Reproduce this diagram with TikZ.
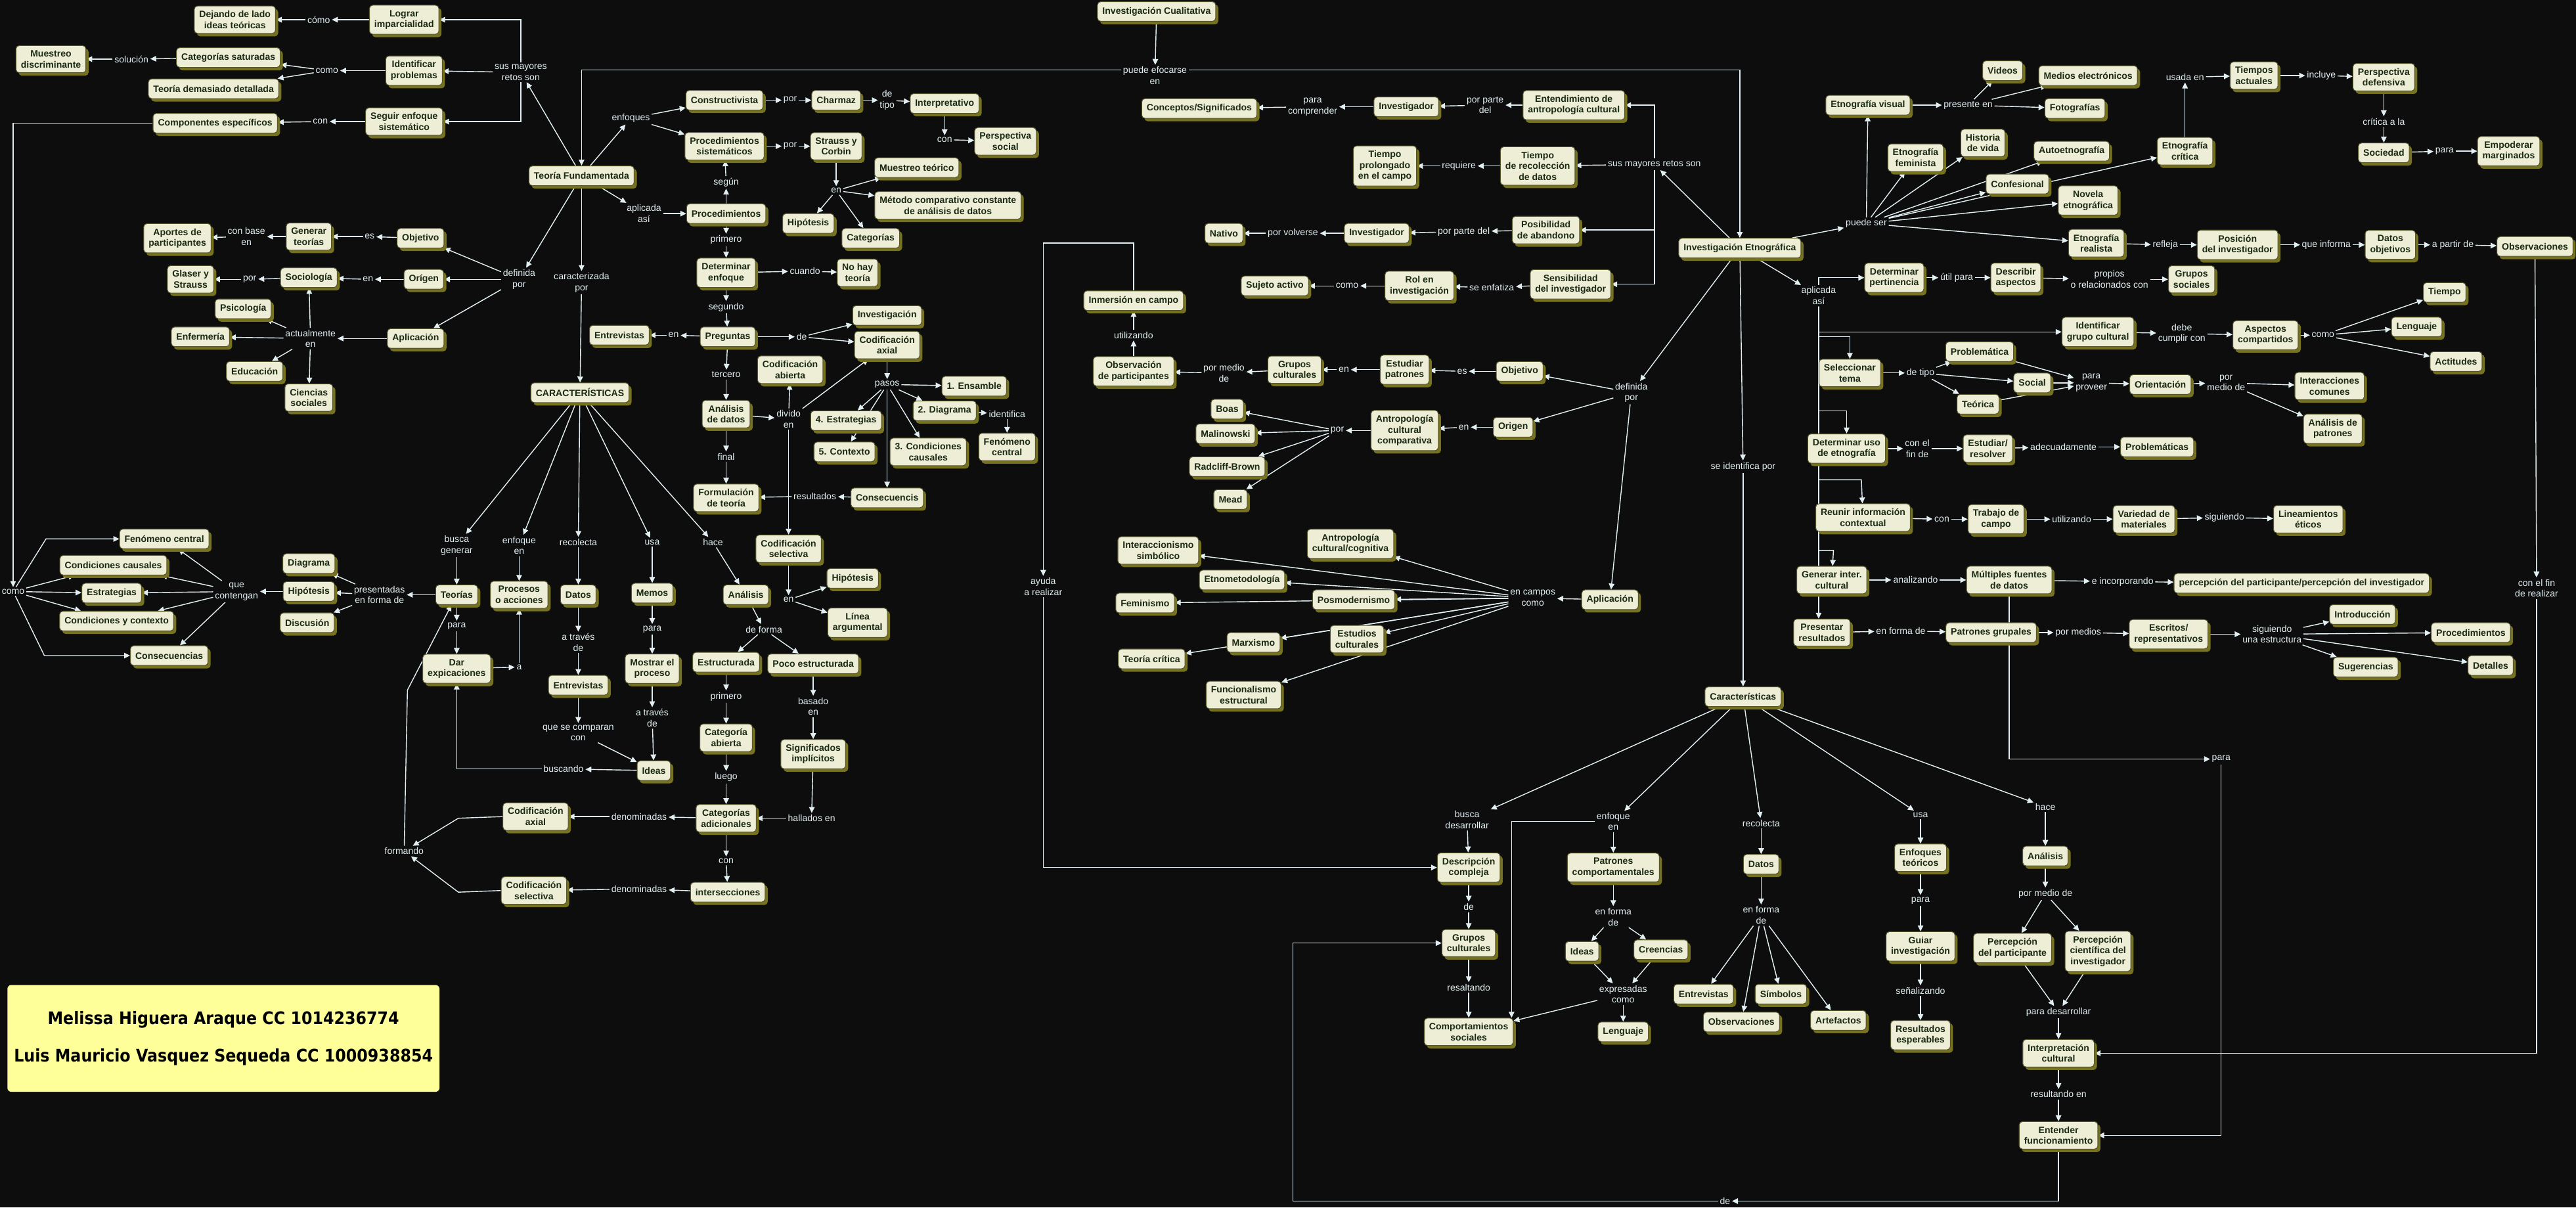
\documentclass[tikz,border=0pt]{standalone}
\usepackage{fontspec}
\setmainfont{Liberation Sans}
\newfontfamily\authorfont{DejaVu Sans}[FakeStretch=0.9]
\usepackage{tikz}
\usetikzlibrary{arrows.meta,positioning,shadows}
\pgfdeclarelayer{pagebase}
\pgfdeclarelayer{edges}
\pgfsetlayers{pagebase,edges,main}
\definecolor{pagebg}{HTML}{0D0D0D}
\definecolor{conceptfill}{HTML}{EEEDD6}
\definecolor{conceptline}{HTML}{55552A}
\definecolor{conceptshade}{HTML}{777220}
\definecolor{concepttext}{HTML}{1A2A14}
\definecolor{linkcol}{HTML}{E2EFF2}
\definecolor{authorfill}{HTML}{FFFF99}
\tikzset{
    concept/.style={draw=conceptline,fill=conceptfill,rounded corners=1mm,line width=0.6pt,align=center,
        text=concepttext,font=\bfseries\fontsize{8}{9.4}\selectfont,inner xsep=1.5mm,inner ysep=1.5mm,
        minimum height=6mm,general shadow={fill=conceptshade,shadow xshift=0.8mm,shadow yshift=-0.9mm}},
    phrase/.style={text=linkcol,font=\fontsize{8}{9.4}\selectfont,align=center,inner sep=0.5mm},
    authorbox/.style={fill=authorfill,rounded corners=1.2mm,align=center,minimum width=131.5mm,minimum height=32.5mm,
        font=\authorfont\bfseries\fontsize{15}{32.7}\selectfont},
    link/.style={draw=linkcol,line width=0.8pt},
    arrow/.style={link,-{Triangle[length=1.8mm,width=1.7mm]}}
}

\begin{document}
\begin{tikzpicture}[x=0.5mm,y=-0.5mm]
    \useasboundingbox (0,0) rectangle (1568,735);
    \begin{pgfonlayer}{pagebase}
        \fill[pagebg] (0,0) rectangle (1568,735);
    \end{pgfonlayer}

    \node[concept] (tf) at (354,107) {Teoría Fundamentada};
    \node[phrase] (retos1) at (317,44) {sus mayores\\retos son};
    \node[concept] (imparc) at (246,12) {Lograr\\imparcialidad};
    \node[phrase] (como1) at (194,12) {cómo};
    \node[concept] (dejando) at (143,12) {Dejando de lado\\ideas teóricas};
    \node[concept] (identprob) at (252,43) {Identificar\\problemas};
    \node[phrase] (como2) at (199,43) {como};
    \node[concept] (catsat) at (139,35) {Categorías saturadas};
    \node[concept] (teodet) at (130,54) {Teoría demasiado detallada};
    \node[phrase] (solucion) at (80,36) {solución};
    \node[concept] (muestdisc) at (31,36) {Muestreo\\discriminante};
    \node[concept] (seguir) at (246,74) {Seguir enfoque\\sistemático};
    \node[phrase] (con1) at (195,74) {con};
    \node[concept] (componentes) at (131,75) {Componentes específicos};

    \node[phrase] (como3) at (8,360) {como};
    \node[concept] (fencen1) at (100,328) {Fenómeno central};
    \node[concept] (condcaus) at (69,344) {Condiciones causales};
    \node[concept] (estrat1) at (68,361) {Estrategias};
    \node[concept] (condcont) at (71,378) {Condiciones y contexto};
    \node[concept] (consec1) at (103,399) {Consecuencias};
    \node[phrase] (contengan) at (144,360) {que\\contengan};
    \node[concept] (diagrama) at (188,343) {Diagrama};
    \node[concept] (hipot1) at (188,360) {Hipótesis};
    \node[concept] (discusion) at (187,379) {Discusión};
    \node[phrase] (presentadas) at (231,362) {presentadas\\en forma de};
    \node[concept] (teorias) at (278,362) {Teorías};

    \node[phrase] (definida1) at (316,170) {definida\\por};
    \node[concept] (objetivo1) at (256,145) {Objetivo};
    \node[phrase] (es1) at (225,144) {es};
    \node[concept] (generar1) at (188,144) {Generar\\teorías};
    \node[phrase] (conbase) at (150,144) {con base\\en};
    \node[concept] (aportes) at (108,145) {Aportes de\\participantes};
    \node[concept] (origen1) at (258,170) {Orígen};
    \node[phrase] (en6) at (224,170) {en};
    \node[concept] (sociologia) at (188,169) {Sociología};
    \node[phrase] (por4) at (152,170) {por};
    \node[concept] (glaser) at (116,170) {Glaser y\\Strauss};
    \node[concept] (aplicacion1) at (253,206) {Aplicación};
    \node[phrase] (actualmente) at (189,206) {actualmente\\en};
    \node[concept] (psicologia) at (148,188) {Psicología};
    \node[concept] (enfermeria) at (122,205) {Enfermería};
    \node[concept] (educacion) at (155,226) {Educación};
    \node[concept] (ciencias) at (188,242) {Ciencias\\sociales};

    \node[phrase] (caracpor) at (354,172) {caracterizada\\por};
    \node[concept] (caract1) at (353,239) {CARACTERÍSTICAS};
    \node[phrase] (buscagen) at (278,332) {busca\\generar};
    \node[phrase] (enfoqen1) at (316,332) {enfoque\\en};
    \node[phrase] (recolecta1) at (352,330) {recolecta};
    \node[phrase] (usa1) at (397,330) {usa};
    \node[phrase] (hace1) at (434,330) {hace};
    \node[concept] (procesos) at (316,362) {Procesos\\o acciones};
    \node[concept] (datos1) at (352,362) {Datos};
    \node[concept] (memos) at (397,361) {Memos};
    \node[phrase] (para1) at (278,381) {para};
    \node[concept] (darexp) at (278,407) {Dar\\expicaciones};
    \node[phrase] (a1) at (316,406) {a};
    \node[phrase] (atraves1) at (352,391) {a través\\de};
    \node[concept] (entrev1) at (352,417) {Entrevistas};
    \node[phrase] (comparan) at (352,446) {que se comparan\\con};
    \node[phrase] (para2) at (397,383) {para};
    \node[concept] (mostrar) at (397,407) {Mostrar el\\proceso};
    \node[phrase] (atraves2) at (397,437) {a través\\de};
    \node[concept] (ideas1) at (398,469) {Ideas};
    \node[phrase] (buscando) at (343,468) {buscando};
    \node[phrase] (formando) at (246,518) {formando};

    \node[phrase] (enfoques) at (384,72) {enfoques};
    \node[concept] (construct) at (441,61) {Constructivista};
    \node[phrase] (por1) at (481,61) {por};
    \node[concept] (charmaz) at (509,61) {Charmaz};
    \node[phrase] (detipo1) at (540,61) {de\\tipo};
    \node[concept] (interp) at (575,63) {Interpretativo};
    \node[phrase] (con2) at (575,85) {con};
    \node[concept] (perssoc) at (612,86) {Perspectiva\\social};
    \node[concept] (procsist) at (441,89) {Procedimientos\\sistemáticos};
    \node[phrase] (por2) at (481,89) {por};
    \node[concept] (strauss) at (509,89) {Strauss y\\Corbin};
    \node[phrase] (en1) at (509,116) {en};
    \node[concept] (muestteo) at (558,102) {Muestreo teórico};
    \node[concept] (metodo) at (577,125) {Método comparativo constante\\de análisis de datos};
    \node[concept] (hipot2) at (492,136) {Hipótesis};
    \node[concept] (categorias1) at (530,145) {Categorías};
    \node[phrase] (aplicada1) at (392,130) {aplicada\\así};
    \node[concept] (proced) at (442,130) {Procedimientos};
    \node[phrase] (segun) at (442,111) {según};
    \node[phrase] (primero1) at (442,146) {primero};
    \node[concept] (detenf) at (442,166) {Determinar\\enfoque};
    \node[phrase] (cuando) at (490,165) {cuando};
    \node[concept] (nohay) at (522,166) {No hay\\teoría};
    \node[phrase] (segundo) at (442,187) {segundo};
    \node[concept] (preguntas) at (443,205) {Preguntas};
    \node[phrase] (en2) at (410,204) {en};
    \node[concept] (entrev2) at (377,204) {Entrevistas};
    \node[phrase] (de1) at (488,205) {de};
    \node[concept] (investig) at (540,192) {Investigación};
    \node[concept] (codaxial1) at (540,210) {Codificación\\axial};
    \node[phrase] (tercero) at (442,228) {tercero};
    \node[concept] (codabierta) at (481,225) {Codificación\\abierta};
    \node[phrase] (pasos) at (540,234) {pasos};
    \node[concept] (ensamble) at (593,235) {1. Ensamble};
    \node[concept] (analdatos) at (442,252) {Análisis\\de datos};
    \node[phrase] (divido) at (480,255) {divido\\en};
    \node[concept] (estrat2) at (515,256) {4. Estrategias};
    \node[concept] (contexto) at (514,275) {5. Contexto};
    \node[concept] (diag2) at (575,250) {2. Diagrama};
    \node[phrase] (identifica) at (613,252) {identifica};
    \node[concept] (fencen2) at (613,272) {Fenómeno\\central};
    \node[concept] (condcaus2) at (565,275) {3. Condiciones\\causales};
    \node[phrase] (final) at (442,278) {final};
    \node[concept] (formteo) at (442,303) {Formulación\\de teoría};
    \node[phrase] (resultados) at (496,302) {resultados};
    \node[concept] (consec2) at (540,303) {Consecuencis};
    \node[concept] (codsel1) at (480,334) {Codificación\\selectiva};
    \node[phrase] (en3) at (480,365) {en};
    \node[concept] (hipot3) at (519,352) {Hipótesis};
    \node[concept] (lineaarg) at (522,379) {Línea\\argumental};
    \node[concept] (analisis1) at (454,362) {Análisis};
    \node[phrase] (deforma) at (465,383) {de forma};
    \node[concept] (estructurada) at (442,403) {Estructurada};
    \node[concept] (pocoestr) at (495,404) {Poco estructurada};
    \node[phrase] (primero2) at (442,424) {primero};
    \node[phrase] (basado) at (495,430) {basado\\en};
    \node[concept] (catabierta) at (442,449) {Categoría\\abierta};
    \node[concept] (signif) at (495,459) {Significados\\implícitos};
    \node[phrase] (luego) at (442,473) {luego};
    \node[concept] (catadic) at (442,498) {Categorías\\adicionales};
    \node[phrase] (hallados) at (494,498) {hallados en};
    \node[phrase] (con3) at (442,524) {con};
    \node[concept] (intersec) at (443,543) {intersecciones};
    \node[phrase] (denom1) at (389,497) {denominadas};
    \node[phrase] (denom2) at (389,541) {denominadas};
    \node[concept] (codaxial2) at (326,497) {Codificación\\axial};
    \node[concept] (codsel2) at (325,542) {Codificación\\selectiva};

    \node[concept] (ic) at (704,7) {Investigación Cualitativa};
    \node[phrase] (efocarse) at (703,46) {puede efocarse\\en};
    \node[concept] (ie) at (1059,151) {Investigación Etnográfica};
    \node[phrase] (retos2) at (1007,100) {sus mayores retos son};
    \node[concept] (entend) at (958,64) {Entendimiento de\\antropología cultural};
    \node[phrase] (porparte1) at (904,64) {por parte\\del};
    \node[concept] (investigador1) at (856,65) {Investigador};
    \node[phrase] (comprender) at (799,65) {para\\comprender};
    \node[concept] (conceptos) at (730,66) {Conceptos/Significados};
    \node[concept] (tiemrec) at (936,101) {Tiempo\\de recolección\\de datos};
    \node[phrase] (requiere) at (888,101) {requiere};
    \node[concept] (tiemprol) at (843,101) {Tiempo\\prolongado\\en el campo};
    \node[concept] (posib) at (941,140) {Posibilidad\\de abandono};
    \node[phrase] (porparte2) at (891,141) {por parte del};
    \node[concept] (investigador2) at (838,142) {Investigador};
    \node[phrase] (volverse) at (787,142) {por volverse};
    \node[concept] (nativo) at (745,142) {Nativo};
    \node[concept] (sensib) at (956,173) {Sensibilidad\\del investigador};
    \node[phrase] (enfatiza) at (908,175) {se enfatiza};
    \node[concept] (rol) at (864,174) {Rol en\\investigación};
    \node[phrase] (como4) at (820,174) {como};
    \node[concept] (sujeto) at (776,174) {Sujeto activo};

    \node[phrase] (definida2) at (993,239) {definida\\por};
    \node[concept] (objetivo2) at (925,226) {Objetivo};
    \node[phrase] (es2) at (890,226) {es};
    \node[concept] (estpat) at (855,225) {Estudiar\\patrones};
    \node[phrase] (en4) at (818,225) {en};
    \node[concept] (grupcult1) at (788,225) {Grupos\\culturales};
    \node[phrase] (pormedio1) at (745,227) {por medio\\de};
    \node[concept] (observpart) at (690,226) {Observación\\de participantes};
    \node[phrase] (utilizando1) at (690,204) {utilizando};
    \node[concept] (inmersion) at (690,183) {Inmersión en campo};
    \node[phrase] (ayuda) at (635,357) {ayuda\\a realizar};
    \node[concept] (origen2) at (921,260) {Origen};
    \node[phrase] (en5) at (891,260) {en};
    \node[concept] (antcomp) at (855,262) {Antropología\\cultural\\comparativa};
    \node[phrase] (por3) at (814,262) {por};
    \node[concept] (boas) at (747,249) {Boas};
    \node[concept] (malinowski) at (746,264) {Malinowski};
    \node[concept] (radcliff) at (747,284) {Radcliff-Brown};
    \node[concept] (mead) at (749,304) {Mead};
    \node[concept] (aplicacion2) at (980,365) {Aplicación};
    \node[phrase] (campos) at (933,364) {en campos\\como};
    \node[concept] (antcog) at (822,331) {Antropología\\cultural/cognitiva};
    \node[concept] (interacc) at (705,335) {Interaccionismo\\simbólico};
    \node[concept] (etnomet) at (756,353) {Etnometodología};
    \node[concept] (feminismo) at (697,367) {Feminismo};
    \node[concept] (posmod) at (824,365) {Posmodernismo};
    \node[concept] (estcult) at (826,389) {Estudios\\culturales};
    \node[concept] (marxismo) at (763,391) {Marxismo};
    \node[concept] (teocrit) at (701,401) {Teoría crítica};
    \node[concept] (funcional) at (757,423) {Funcionalismo\\estructural};

    \node[phrase] (puedeser) at (1136,136) {puede ser};
    \node[concept] (visual) at (1137,64) {Etnografía visual};
    \node[phrase] (presente) at (1198,64) {presente en};
    \node[concept] (videos) at (1219,43) {Videos};
    \node[concept] (medios) at (1271,46) {Medios electrónicos};
    \node[concept] (fotos) at (1263,66) {Fotografías};
    \node[concept] (feminista) at (1166,96) {Etnografía\\feminista};
    \node[concept] (historia) at (1207,87) {Historia\\de vida};
    \node[concept] (autoetno) at (1261,92) {Autoetnografía};
    \node[concept] (confes) at (1228,112) {Confesional};
    \node[concept] (novela) at (1271,122) {Novela\\etnográfica};
    \node[concept] (critica) at (1330,92) {Etnografía\\crítica};
    \node[concept] (realista) at (1276,148) {Etnografía\\realista};
    \node[phrase] (usada) at (1330,47) {usada en};
    \node[concept] (tiempos) at (1372,46) {Tiempos\\actuales};
    \node[phrase] (incluye) at (1413,46) {incluye};
    \node[concept] (persdef) at (1451,47) {Perspectiva\\defensiva};
    \node[phrase] (criticaala) at (1451,74) {crítica a la};
    \node[concept] (sociedad) at (1451,93) {Sociedad};
    \node[phrase] (para3) at (1488,92) {para};
    \node[concept] (empoderar) at (1527,92) {Empoderar\\marginados};
    \node[phrase] (refleja) at (1318,149) {refleja};
    \node[concept] (posicion) at (1362,149) {Posición\\del investigador};
    \node[phrase] (informa) at (1416,149) {que informa};
    \node[concept] (datosobj) at (1455,149) {Datos\\objetivos};
    \node[phrase] (apartir) at (1493,149) {a partir de};
    \node[concept] (observ1) at (1543,150) {Observaciones};
    \node[phrase] (finrealizar) at (1544,358) {con el fin\\de realizar};

    \node[phrase] (apl2) at (1107,180) {aplicada\\así};
    \node[concept] (detpert) at (1153,169) {Determinar\\pertinencia};
    \node[phrase] (util) at (1191,169) {útil para};
    \node[concept] (describir) at (1227,169) {Describir\\aspectos};
    \node[phrase] (propios) at (1284,170) {propios\\o relacionados con};
    \node[concept] (grupsoc) at (1334,170) {Grupos\\sociales};
    \node[concept] (identgrupo) at (1277,202) {Identificar\\grupo cultural};
    \node[phrase] (debe) at (1328,203) {debe\\cumplir con};
    \node[concept] (aspcomp) at (1379,204) {Aspectos\\compartidos};
    \node[phrase] (como5) at (1414,204) {como};
    \node[concept] (tiempo) at (1488,178) {Tiempo};
    \node[concept] (lenguaje1) at (1471,199) {Lenguaje};
    \node[concept] (actitudes) at (1495,220) {Actitudes};
    \node[concept] (seltema) at (1126,227) {Seleccionar\\tema};
    \node[phrase] (detipo2) at (1169,227) {de tipo};
    \node[concept] (problematica) at (1205,214) {Problemática};
    \node[concept] (social) at (1237,233) {Social};
    \node[concept] (teorica) at (1204,246) {Teórica};
    \node[phrase] (proveer) at (1273,233) {para\\proveer};
    \node[concept] (orientacion) at (1315,234) {Orientación};
    \node[phrase] (pormedio2) at (1355,233) {por\\medio de};
    \node[concept] (interacciones) at (1418,235) {Interacciones\\comunes};
    \node[concept] (analpat) at (1420,261) {Análisis de\\patrones};
    \node[concept] (detuso) at (1124,273) {Determinar uso\\de etnografía};
    \node[phrase] (confin) at (1167,273) {con el\\fin de};
    \node[concept] (estudiar) at (1210,273) {Estudiar/\\resolver};
    \node[phrase] (adecuad) at (1256,272) {adecuadamente};
    \node[concept] (problematicas) at (1313,272) {Problemáticas};
    \node[concept] (reunir) at (1134,315) {Reunir información\\contextual};
    \node[phrase] (con4) at (1182,316) {con};
    \node[concept] (trabajo) at (1215,316) {Trabajo de\\campo};
    \node[phrase] (utilizando2) at (1261,316) {utilizando};
    \node[concept] (variedad) at (1305,316) {Variedad de\\materiales};
    \node[phrase] (siguiendo1) at (1354,315) {siguiendo};
    \node[concept] (lineam) at (1405,316) {Lineamientos\\éticos};
    \node[concept] (generar2) at (1115,353) {Generar inter.\\cultural};
    \node[phrase] (analizando) at (1166,353) {analizando};
    \node[concept] (multiples) at (1223,353) {Múltiples fuentes\\de datos};
    \node[phrase] (incorporando) at (1292,354) {e incorporando};
    \node[concept] (percepcion) at (1401,355) {percepción del participante/percepción del investigador};
    \node[concept] (presentar) at (1109,385) {Presentar\\resultados};
    \node[phrase] (enforma1) at (1157,384) {en forma de};
    \node[concept] (patgrup) at (1212,385) {Patrones grupales};
    \node[phrase] (pormedios) at (1265,385) {por medios};
    \node[concept] (escritos) at (1320,386) {Escritos/\\representativos};
    \node[phrase] (estructura) at (1383,386) {siguiendo\\una estructura};
    \node[concept] (intro) at (1438,374) {Introducción};
    \node[concept] (proced2) at (1504,385) {Procedimientos};
    \node[concept] (sugerencias) at (1440,406) {Sugerencias};
    \node[concept] (detalles) at (1516,405) {Detalles};
    \node[phrase] (para4) at (1352,462) {para};

    \node[phrase] (identifica2) at (1061,284) {se identifica por};
    \node[concept] (caract2) at (1061,424) {Características};
    \node[phrase] (buscades) at (893,499) {busca\\desarrollar};
    \node[phrase] (enfoqen2) at (982,500) {enfoque\\en};
    \node[phrase] (recolecta2) at (1072,501) {recolecta};
    \node[phrase] (usa2) at (1169,496) {usa};
    \node[phrase] (hace2) at (1245,491) {hace};
    \node[concept] (descomp) at (894,528) {Descripción\\compleja};
    \node[phrase] (de2) at (894,552) {de};
    \node[concept] (grupcult2) at (894,574) {Grupos\\culturales};
    \node[phrase] (resaltando) at (894,601) {resaltando};
    \node[concept] (compsoc) at (894,628) {Comportamientos\\sociales};
    \node[concept] (patcomp) at (982,528) {Patrones\\comportamentales};
    \node[phrase] (enforma2) at (982,558) {en forma\\de};
    \node[concept] (ideas2) at (963,579) {Ideas};
    \node[concept] (creencias) at (1011,578) {Creencias};
    \node[phrase] (expresadas) at (988,605) {expresadas\\como};
    \node[concept] (lenguaje2) at (988,628) {Lenguaje};
    \node[concept] (datos2) at (1072,526) {Datos};
    \node[phrase] (enforma3) at (1072,557) {en forma\\de};
    \node[concept] (entrev3) at (1037,605) {Entrevistas};
    \node[concept] (observ2) at (1060,622) {Observaciones};
    \node[concept] (simbolos) at (1084,605) {Símbolos};
    \node[concept] (artefactos) at (1119,621) {Artefactos};
    \node[concept] (enfteo) at (1169,522) {Enfoques\\teóricos};
    \node[phrase] (para5) at (1169,548) {para};
    \node[concept] (guiar) at (1169,576) {Guiar\\investigación};
    \node[phrase] (senal) at (1169,603) {señalizando};
    \node[concept] (resesp) at (1169,630) {Resultados\\esperables};
    \node[concept] (analisis2) at (1245,521) {Análisis};
    \node[phrase] (pormedio3) at (1245,544) {por medio de};
    \node[concept] (percpart) at (1225,577) {Percepción\\del participante};
    \node[concept] (perccien) at (1277,579) {Percepción\\científica del\\investigador};
    \node[phrase] (desarrollar) at (1253,616) {para desarrollar};
    \node[concept] (interpcult) at (1253,641) {Interpretación\\cultural};
    \node[phrase] (resultando) at (1253,666) {resultando en};
    \node[concept] (entender) at (1253,691) {Entender\\funcionamiento};
    \node[phrase] (de3) at (1050,731) {de};

    \node[authorbox] (autores) at (136,632) {Melissa Higuera Araque CC 1014236774\\Luis Mauricio Vasquez Sequeda CC 1000938854};

    \begin{pgfonlayer}{edges}
    \draw[arrow] (tf) -- (retos1);
    \draw[arrow] (retos1.north) |- (imparc);
    \draw[arrow] (retos1) -- (identprob);
    \draw[arrow] (retos1.south) |- (seguir);
    \draw[arrow] (imparc) -- (como1);
    \draw[arrow] (como1) -- (dejando);
    \draw[arrow] (identprob) -- (como2);
    \draw[arrow] (como2) -- (catsat);
    \draw[arrow] (como2) -- (teodet);
    \draw[arrow] (catsat) -- (solucion);
    \draw[arrow] (solucion) -- (muestdisc);
    \draw[arrow] (seguir) -- (con1);
    \draw[arrow] (con1) -- (componentes);
    \draw[arrow] (componentes.west) -| (como3.north);
    \draw[arrow] (como3) -- (28,328) -- (fencen1);
    \draw[arrow] (como3) -- (condcaus);
    \draw[arrow] (como3) -- (estrat1);
    \draw[arrow] (como3) -- (condcont);
    \draw[arrow] (como3) -- (27,399) -- (consec1);
    \draw[arrow] (contengan) -- (fencen1);
    \draw[arrow] (contengan) -- (condcaus);
    \draw[arrow] (contengan) -- (estrat1);
    \draw[arrow] (contengan) -- (condcont);
    \draw[arrow] (contengan) -- (consec1);
    \draw[arrow] (hipot1) -- (contengan);
    \draw[arrow] (presentadas) -- (diagrama);
    \draw[arrow] (presentadas) -- (hipot1);
    \draw[arrow] (presentadas) -- (discusion);
    \draw[arrow] (teorias) -- (presentadas);

    \draw[arrow] (tf) -- (definida1);
    \draw[arrow] (definida1) -- (objetivo1);
    \draw[arrow] (definida1) -- (origen1);
    \draw[arrow] (definida1) -- (aplicacion1);
    \draw[arrow] (objetivo1) -- (es1);
    \draw[arrow] (es1) -- (generar1);
    \draw[arrow] (generar1) -- (conbase);
    \draw[arrow] (conbase) -- (aportes);
    \draw[arrow] (origen1) -- (en6);
    \draw[arrow] (en6) -- (sociologia);
    \draw[arrow] (sociologia) -- (por4);
    \draw[arrow] (por4) -- (glaser);
    \draw[arrow] (aplicacion1) -- (actualmente);
    \draw[arrow] (actualmente) -- (sociologia);
    \draw[arrow] (actualmente) -- (psicologia);
    \draw[arrow] (actualmente) -- (enfermeria);
    \draw[arrow] (actualmente) -- (educacion);
    \draw[arrow] (actualmente) -- (ciencias);

    \draw[arrow] (tf) -- (caracpor);
    \draw[arrow] (caracpor) -- (caract1);
    \draw[arrow] (caract1) -- (buscagen);
    \draw[arrow] (caract1) -- (enfoqen1);
    \draw[arrow] (caract1) -- (recolecta1);
    \draw[arrow] (caract1) -- (usa1);
    \draw[arrow] (caract1) -- (hace1);
    \draw[arrow] (buscagen) -- (teorias);
    \draw[arrow] (enfoqen1) -- (procesos);
    \draw[arrow] (recolecta1) -- (datos1);
    \draw[arrow] (usa1) -- (memos);
    \draw[arrow] (hace1) -- (analisis1);
    \draw[arrow] (teorias) -- (para1);
    \draw[arrow] (para1) -- (darexp);
    \draw[arrow] (darexp) -- (a1);
    \draw[arrow] (a1) -- (procesos);
    \draw[arrow] (datos1) -- (atraves1);
    \draw[arrow] (atraves1) -- (entrev1);
    \draw[arrow] (entrev1) -- (comparan);
    \draw[arrow] (comparan) -- (ideas1);
    \draw[arrow] (memos) -- (para2);
    \draw[arrow] (para2) -- (mostrar);
    \draw[arrow] (mostrar) -- (atraves2);
    \draw[arrow] (atraves2) -- (ideas1);
    \draw[arrow] (ideas1) -- (buscando);
    \draw[arrow] (buscando.west) -| (darexp.south);
    \draw[arrow] (formando) -- (248,420) -- (teorias);
    \draw[arrow] (codaxial2.west) -- (279,498) -- (formando);
    \draw[arrow] (codsel2.west) -- (279,543) -- (formando);

    \draw[arrow] (tf) -- (enfoques);
    \draw[arrow] (enfoques) -- (construct);
    \draw[arrow] (enfoques) -- (procsist);
    \draw[arrow] (construct) -- (por1);
    \draw[arrow] (por1) -- (charmaz);
    \draw[arrow] (charmaz) -- (detipo1);
    \draw[arrow] (detipo1) -- (interp);
    \draw[arrow] (interp) -- (con2);
    \draw[arrow] (con2) -- (perssoc);
    \draw[arrow] (procsist) -- (por2);
    \draw[arrow] (por2) -- (strauss);
    \draw[arrow] (strauss) -- (en1);
    \draw[arrow] (en1) -- (muestteo);
    \draw[arrow] (en1) -- (metodo);
    \draw[arrow] (en1) -- (hipot2);
    \draw[arrow] (en1) -- (categorias1);
    \draw[arrow] (tf) -- (aplicada1);
    \draw[arrow] (aplicada1) -- (proced);
    \draw[arrow] (proced) -- (segun);
    \draw[arrow] (segun) -- (procsist);
    \draw[arrow] (proced) -- (primero1);
    \draw[arrow] (primero1) -- (detenf);
    \draw[arrow] (detenf) -- (cuando);
    \draw[arrow] (cuando) -- (nohay);
    \draw[arrow] (detenf) -- (segundo);
    \draw[arrow] (segundo) -- (preguntas);
    \draw[arrow] (preguntas) -- (en2);
    \draw[arrow] (en2) -- (entrev2);
    \draw[arrow] (preguntas) -- (de1);
    \draw[arrow] (de1) -- (investig);
    \draw[arrow] (de1) -- (codaxial1);
    \draw[arrow] (preguntas) -- (tercero);
    \draw[arrow] (tercero) -- (analdatos);
    \draw[arrow] (codaxial1) -- (pasos);
    \draw[arrow] (pasos) -- (ensamble);
    \draw[arrow] (pasos) -- (diag2);
    \draw[arrow] (pasos) -- (condcaus2);
    \draw[arrow] (pasos) -- (estrat2);
    \draw[arrow] (pasos) -- (contexto);
    \draw[arrow] (pasos) -- (consec2);
    \draw[arrow] (diag2) -- (identifica);
    \draw[arrow] (identifica) -- (fencen2);
    \draw[arrow] (analdatos) -- (divido);
    \draw[arrow] (divido) -- (codabierta);
    \draw[arrow] (divido) -- (codaxial1);
    \draw[arrow] (divido) -- (codsel1);
    \draw[arrow] (analdatos) -- (final);
    \draw[arrow] (final) -- (formteo);
    \draw[arrow] (consec2) -- (resultados);
    \draw[arrow] (resultados) -- (formteo);
    \draw[arrow] (codsel1) -- (en3);
    \draw[arrow] (en3) -- (hipot3);
    \draw[arrow] (en3) -- (lineaarg);
    \draw[arrow] (analisis1) -- (deforma);
    \draw[arrow] (deforma) -- (estructurada);
    \draw[arrow] (deforma) -- (pocoestr);
    \draw[arrow] (estructurada) -- (primero2);
    \draw[arrow] (primero2) -- (catabierta);
    \draw[arrow] (catabierta) -- (luego);
    \draw[arrow] (luego) -- (catadic);
    \draw[arrow] (catadic) -- (con3);
    \draw[arrow] (con3) -- (intersec);
    \draw[arrow] (pocoestr) -- (basado);
    \draw[arrow] (basado) -- (signif);
    \draw[arrow] (signif) -- (hallados);
    \draw[arrow] (hallados) -- (catadic);
    \draw[arrow] (catadic) -- (denom1);
    \draw[arrow] (denom1) -- (codaxial2);
    \draw[arrow] (intersec) -- (denom2);
    \draw[arrow] (denom2) -- (codsel2);

    \draw[arrow] (ic) -- (efocarse);
    \draw[arrow] ([yshift=1.7mm]efocarse.west) -| (tf.north);
    \draw[arrow] ([yshift=1.7mm]efocarse.east) -| (ie.north);
    \draw[arrow] (ie) -- (retos2);
    \draw[arrow] (retos2.north) |- (entend);
    \draw[arrow] (retos2) -- (tiemrec);
    \draw[arrow] (retos2.south) |- (posib);
    \draw[arrow] (retos2.south) |- (sensib);
    \draw[arrow] (entend) -- (porparte1);
    \draw[arrow] (porparte1) -- (investigador1);
    \draw[arrow] (investigador1) -- (comprender);
    \draw[arrow] (comprender) -- (conceptos);
    \draw[arrow] (tiemrec) -- (requiere);
    \draw[arrow] (requiere) -- (tiemprol);
    \draw[arrow] (posib) -- (porparte2);
    \draw[arrow] (porparte2) -- (investigador2);
    \draw[arrow] (investigador2) -- (volverse);
    \draw[arrow] (volverse) -- (nativo);
    \draw[arrow] (sensib) -- (enfatiza);
    \draw[arrow] (enfatiza) -- (rol);
    \draw[arrow] (rol) -- (como4);
    \draw[arrow] (como4) -- (sujeto);
    \draw[arrow] (ie) -- (definida2);
    \draw[arrow] (definida2) -- (objetivo2);
    \draw[arrow] (definida2) -- (origen2);
    \draw[arrow] (definida2) -- (aplicacion2);
    \draw[arrow] (objetivo2) -- (es2);
    \draw[arrow] (es2) -- (estpat);
    \draw[arrow] (estpat) -- (en4);
    \draw[arrow] (en4) -- (grupcult1);
    \draw[arrow] (grupcult1) -- (pormedio1);
    \draw[arrow] (pormedio1) -- (observpart);
    \draw[arrow] (observpart) -- (utilizando1);
    \draw[arrow] (utilizando1) -- (inmersion);
    \draw[arrow] (inmersion.north) |- (635,148) -- (ayuda);
    \draw[arrow] (ayuda) |- (descomp);
    \draw[arrow] (origen2) -- (en5);
    \draw[arrow] (en5) -- (antcomp);
    \draw[arrow] (antcomp) -- (por3);
    \draw[arrow] (por3) -- (boas);
    \draw[arrow] (por3) -- (malinowski);
    \draw[arrow] (por3) -- (radcliff);
    \draw[arrow] (por3) -- (mead);
    \draw[arrow] (aplicacion2) -- (campos);
    \draw[arrow] (campos) -- (antcog);
    \draw[arrow] (campos) -- (interacc);
    \draw[arrow] (campos) -- (etnomet);
    \draw[arrow] (campos) -- (feminismo);
    \draw[arrow] (campos) -- (posmod);
    \draw[arrow] (campos) -- (estcult);
    \draw[arrow] (campos) -- (marxismo);
    \draw[arrow] (campos) -- (teocrit);
    \draw[arrow] (campos) -- (funcional);

    \draw[arrow] (ie) -- (puedeser);
    \draw[arrow] (puedeser) -- (visual);
    \draw[arrow] (puedeser) -- (feminista);
    \draw[arrow] (puedeser) -- (historia);
    \draw[arrow] (puedeser) -- (autoetno);
    \draw[arrow] (puedeser) -- (confes);
    \draw[arrow] (puedeser) -- (novela);
    \draw[arrow] (puedeser) -- (critica);
    \draw[arrow] (puedeser) -- (realista);
    \draw[arrow] (visual) -- (presente);
    \draw[arrow] (presente) -- (videos);
    \draw[arrow] (presente) -- (medios);
    \draw[arrow] (presente) -- (fotos);
    \draw[arrow] (critica) -- (usada);
    \draw[arrow] (usada) -- (tiempos);
    \draw[arrow] (tiempos) -- (incluye);
    \draw[arrow] (incluye) -- (persdef);
    \draw[arrow] (persdef) -- (criticaala);
    \draw[arrow] (criticaala) -- (sociedad);
    \draw[arrow] (sociedad) -- (para3);
    \draw[arrow] (para3) -- (empoderar);
    \draw[arrow] (realista) -- (refleja);
    \draw[arrow] (refleja) -- (posicion);
    \draw[arrow] (posicion) -- (informa);
    \draw[arrow] (informa) -- (datosobj);
    \draw[arrow] (datosobj) -- (apartir);
    \draw[arrow] (apartir) -- (observ1);
    \draw[arrow] (observ1) -- (finrealizar);
    \draw[arrow] (finrealizar) |- (interpcult);

    \draw[arrow] (ie) -- (apl2);
    \draw[arrow] (apl2.north) |- (detpert);
    \draw[arrow] (apl2.south) |- (identgrupo);
    \draw[arrow] (apl2.south) |- (1126,205) -- (seltema);
    \draw[arrow] (apl2.south) |- (1124,250) -- (detuso);
    \draw[arrow] (apl2.south) |- (1133,292) -- (reunir);
    \draw[arrow] (apl2.south) |- (1116,335) -- (generar2);
    \draw[arrow] (apl2.south) -- (apl2.south |- presentar.north);
    \draw[arrow] (detpert) -- (util);
    \draw[arrow] (util) -- (describir);
    \draw[arrow] (describir) -- (propios);
    \draw[arrow] (propios) -- (grupsoc);
    \draw[arrow] (identgrupo) -- (debe);
    \draw[arrow] (debe) -- (aspcomp);
    \draw[arrow] (aspcomp) -- (como5);
    \draw[arrow] (como5) -- (tiempo);
    \draw[arrow] (como5) -- (lenguaje1);
    \draw[arrow] (como5) -- (actitudes);
    \draw[arrow] (seltema) -- (detipo2);
    \draw[arrow] (detipo2) -- (problematica);
    \draw[arrow] (detipo2) -- (social);
    \draw[arrow] (detipo2) -- (teorica);
    \draw[arrow] (problematica) -- (proveer);
    \draw[arrow] (social) -- (proveer);
    \draw[arrow] (teorica) -- (proveer);
    \draw[arrow] (proveer) -- (orientacion);
    \draw[arrow] (orientacion) -- (pormedio2);
    \draw[arrow] (pormedio2) -- (interacciones);
    \draw[arrow] (pormedio2) -- (analpat);
    \draw[arrow] (detuso) -- (confin);
    \draw[arrow] (confin) -- (estudiar);
    \draw[arrow] (estudiar) -- (adecuad);
    \draw[arrow] (adecuad) -- (problematicas);
    \draw[arrow] (reunir) -- (con4);
    \draw[arrow] (con4) -- (trabajo);
    \draw[arrow] (trabajo) -- (utilizando2);
    \draw[arrow] (utilizando2) -- (variedad);
    \draw[arrow] (variedad) -- (siguiendo1);
    \draw[arrow] (siguiendo1) -- (lineam);
    \draw[arrow] (generar2) -- (analizando);
    \draw[arrow] (analizando) -- (multiples);
    \draw[arrow] (multiples) -- (incorporando);
    \draw[arrow] (incorporando) -- (percepcion);
    \draw[arrow] (presentar) -- (enforma1);
    \draw[arrow] (enforma1) -- (patgrup);
    \draw[arrow] (patgrup) -- (pormedios);
    \draw[arrow] (pormedios) -- (escritos);
    \draw[arrow] (escritos) -- (estructura);
    \draw[arrow] (estructura) -- (intro);
    \draw[arrow] (estructura) -- (proced2);
    \draw[arrow] (estructura) -- (sugerencias);
    \draw[arrow] (estructura) -- (detalles);
    \draw[arrow] (multiples.south) |- (para4);
    \draw[arrow] (para4) |- (entender);

    \draw[arrow] (ie) -- (identifica2);
    \draw[arrow] (identifica2) -- (caract2);
    \draw[arrow] (caract2) -- (buscades);
    \draw[arrow] (caract2) -- (enfoqen2);
    \draw[arrow] (caract2) -- (recolecta2);
    \draw[arrow] (caract2) -- (usa2);
    \draw[arrow] (caract2) -- (hace2);
    \draw[arrow] (buscades) -- (descomp);
    \draw[arrow] (descomp) -- (de2);
    \draw[arrow] (de2) -- (grupcult2);
    \draw[arrow] (grupcult2) -- (resaltando);
    \draw[arrow] (resaltando) -- (compsoc);
    \draw[arrow] (enfoqen2) -- (patcomp);
    \draw[arrow] (enfoqen2.west) -| ([xshift=-0.6mm]compsoc.north east);
    \draw[arrow] (patcomp) -- (enforma2);
    \draw[arrow] (enforma2) -- (ideas2);
    \draw[arrow] (enforma2) -- (creencias);
    \draw[arrow] (ideas2) -- (expresadas);
    \draw[arrow] (creencias) -- (expresadas);
    \draw[arrow] (expresadas) -- (lenguaje2);
    \draw[arrow] (expresadas) -- (compsoc);
    \draw[arrow] (recolecta2) -- (datos2);
    \draw[arrow] (datos2) -- (enforma3);
    \draw[arrow] (enforma3) -- (entrev3);
    \draw[arrow] (enforma3) -- (observ2);
    \draw[arrow] (enforma3) -- (simbolos);
    \draw[arrow] (enforma3) -- (artefactos);
    \draw[arrow] (usa2) -- (enfteo);
    \draw[arrow] (enfteo) -- (para5);
    \draw[arrow] (para5) -- (guiar);
    \draw[arrow] (guiar) -- (senal);
    \draw[arrow] (senal) -- (resesp);
    \draw[arrow] (hace2) -- (analisis2);
    \draw[arrow] (analisis2) -- (pormedio3);
    \draw[arrow] (pormedio3) -- (percpart);
    \draw[arrow] (pormedio3) -- (perccien);
    \draw[arrow] (percpart) -- (desarrollar);
    \draw[arrow] (perccien) -- (desarrollar);
    \draw[arrow] (desarrollar) -- (interpcult);
    \draw[arrow] (interpcult) -- (resultando);
    \draw[arrow] (resultando) -- (entender);
    \draw[arrow] (entender.south) |- (de3);
    \draw[arrow] (de3) -| (787,574) -- (grupcult2);
    \end{pgfonlayer}
\end{tikzpicture}
\end{document}
